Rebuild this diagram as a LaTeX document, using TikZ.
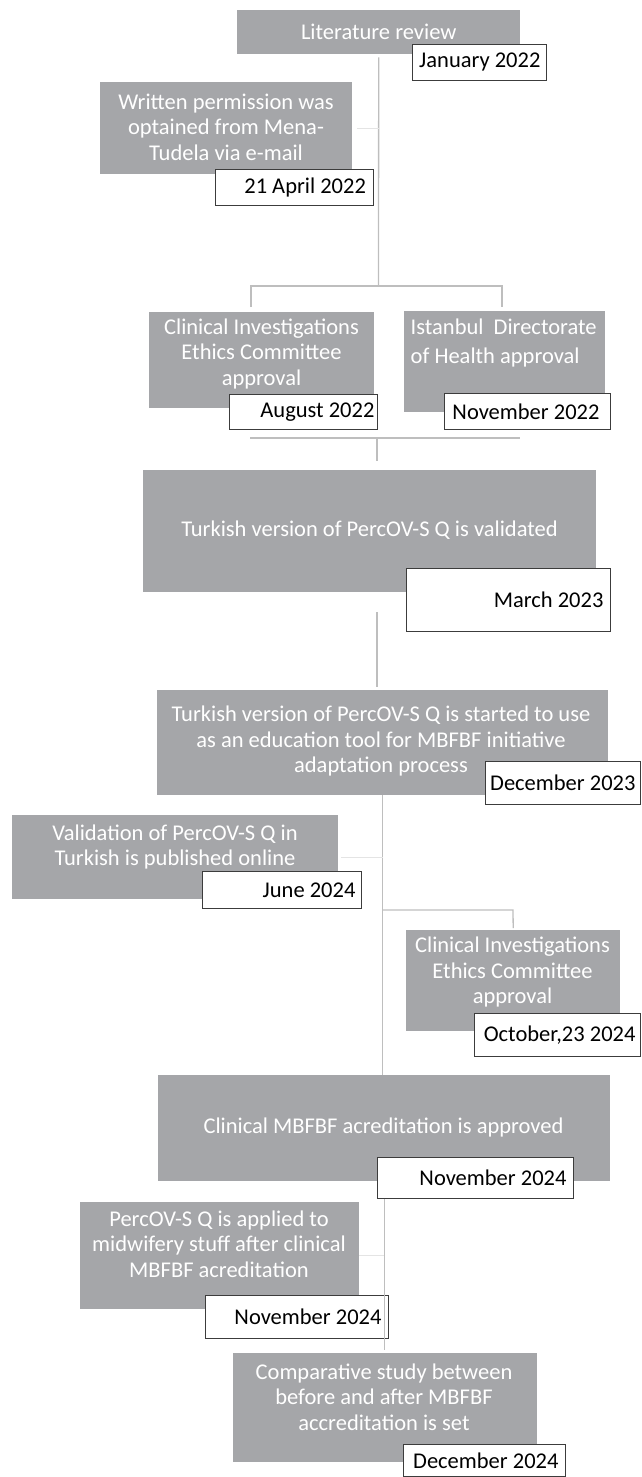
\documentclass[tikz,border=0pt]{standalone}
\usepackage{fontspec}
\setmainfont{Carlito}
\definecolor{boxgray}{RGB}{165,166,169}
\definecolor{connc}{RGB}{190,190,190}
\definecolor{lconnc}{RGB}{228,228,228}
\definecolor{dateborder}{RGB}{60,60,60}
\newcommand{\dtx}[2]{\makebox[#1][r]{#2}}
\tikzset{
  every node/.style={font=\fontsize{22.5}{25.5}\selectfont},
  gbox/.style={fill=boxgray, draw=none, inner sep=0pt, anchor=north west},
  gtext/.style={text=white, align=center, inner sep=0pt},
  datebox/.style={fill=white, draw=dateborder, line width=0.9pt, text=black, anchor=north west, inner ysep=0pt},
  conn/.style={draw=connc, line width=1.3pt},
  lconn/.style={draw=lconnc, line width=1.3pt},
}
\begin{document}
\begin{tikzpicture}[x=1pt,y=-1pt]
\useasboundingbox (0,0) rectangle (642,1477);
% gray boxes
\node[gbox, minimum width=283pt, minimum height=44pt] (lit) at (237,10) {};
\node[gbox, minimum width=252pt, minimum height=92pt] (perm) at (100,82) {};
\node[gbox, minimum width=225pt, minimum height=96pt] (cie1) at (149,312) {};
\node[gbox, minimum width=201pt, minimum height=101pt] (ist) at (404,311) {};
\node[gbox, minimum width=453pt, minimum height=122pt] (val) at (143,470) {};
\node[gbox, minimum width=451pt, minimum height=105pt] (edu) at (157,690) {};
\node[gbox, minimum width=326pt, minimum height=84pt] (pub) at (12,815) {};
\node[gbox, minimum width=214pt, minimum height=101pt] (cie2) at (406,930) {};
\node[gbox, minimum width=452pt, minimum height=106pt] (acc) at (158,1075) {};
\node[gbox, minimum width=279pt, minimum height=107pt] (app) at (80,1202) {};
\node[gbox, minimum width=304pt, minimum height=109pt] (cmp) at (233,1353) {};
% texts in gray boxes
\node[gtext] (litt) at (lit.center) {Literature review};
\node[gtext] (permt) at (226,127) {Written permission was\\optained from Mena-\\Tudela via e-mail};
\node[gtext] (cie1t) at (261.5,353.5) {Clinical Investigations\\Ethics Committee\\approval};
\node[gtext, align=left, anchor=west, font=\fontsize{22.5}{28.5}\selectfont] (istt) at (410.5,343) {Istanbul\ \ Directorate\\of Health approval};
\node[gtext] (valt) at (369.5,530) {Turkish version of PercOV-S Q is validated};
\node[gtext] (edut) at (381,741) {Turkish version of PercOV-S Q is started to use\\as an education tool for MBFBF initiative\\adaptation process};
\node[gtext] (pubt) at (175,847) {Validation of PercOV-S Q in\\Turkish is published online};
\node[gtext] (cie2t) at (512.5,972) {Clinical Investigations\\Ethics Committee\\approval};
\node[gtext] (acct) at (383.5,1127) {Clinical MBFBF acreditation is approved};
\node[gtext] (appt) at (219,1244) {PercOV-S Q is applied to\\midwifery stuff after clinical\\MBFBF acreditation};
\node[gtext] (cmpt) at (384,1397) {Comparative study between\\before and after MBFBF\\accreditation is set};
% date boxes
\node[datebox, inner xsep=6pt, minimum height=36pt] (jan) at (412,44) {\dtx{122pt}{January 2022}};
\node[datebox, inner xsep=7pt, minimum height=36pt] (apr) at (214.5,169) {\dtx{144pt}{21 April 2022}};
\node[datebox, inner xsep=3pt, minimum height=35pt] (aug) at (229,394) {\dtx{142pt}{August 2022}};
\node[datebox, inner xsep=11pt, minimum height=36pt] (nov22) at (444,393) {\dtx{144pt}{November 2022}};
\node[datebox, inner xsep=7pt, minimum height=63pt] (mar) at (406,568) {\dtx{190pt}{March 2023}};
\node[datebox, inner xsep=5pt, minimum height=43pt] (dec23) at (485,761) {\dtx{145pt}{December 2023}};
\node[datebox, inner xsep=6pt, minimum height=37pt] (jun) at (202,871) {\dtx{147pt}{June 2024}};
\node[datebox, inner xsep=5pt, minimum height=43pt] (oct) at (474,1013) {\dtx{156pt}{October,23 2024}};
\node[datebox, inner xsep=7pt, minimum height=41pt] (nov24a) at (377,1157) {\dtx{182pt}{November 2024}};
\node[datebox, inner xsep=7pt, minimum height=43pt] (nov24b) at (205,1295) {\dtx{169pt}{November 2024}};
\node[datebox, inner xsep=7pt, minimum height=32pt] (dec24) at (403,1444) {\dtx{148pt}{December 2024}};
% connectors
\coordinate (j1) at (378.5,286);
\coordinate (bl) at (251,286);
\coordinate (br) at (502,286);
\coordinate (bld) at (251,307);
\coordinate (brd) at (502,307);
\coordinate (m1) at (250,438);
\coordinate (m2) at (520,438);
\coordinate (m3) at (377,438);
\coordinate (m4) at (377,461);
\coordinate (v1) at (377,612);
\coordinate (v2) at (377,687);
\coordinate (b2) at (513,910);
\draw[conn] ([yshift=-3pt]lit.south) -- (j1);
\draw[lconn] ([xshift=5pt]perm.east) -- (perm.east -| j1);
\draw[conn] (bld) -- (bl) -- (br) -- (brd);
\draw[conn] (m1) -- (m2);
\draw[conn] (m3) -- (m4);
\draw[conn] (v1) -- (v2);
\draw[conn] (edu.south) -- (edu.south |- acc.north);
\draw[lconn] ([xshift=3pt]pub.east) -- (pub.east -| edu.south);
\draw[conn] (b2 -| edu.south) -- (b2) -- ([yshift=2pt]cie2.north);
\draw[conn, line width=1pt] (acc.south |- nov24a.south) -- ([yshift=3pt]cmp.north -| acc.south);
\draw[lconn] (app.east) -- (app.east -| acc.south);
\end{tikzpicture}
\end{document}
